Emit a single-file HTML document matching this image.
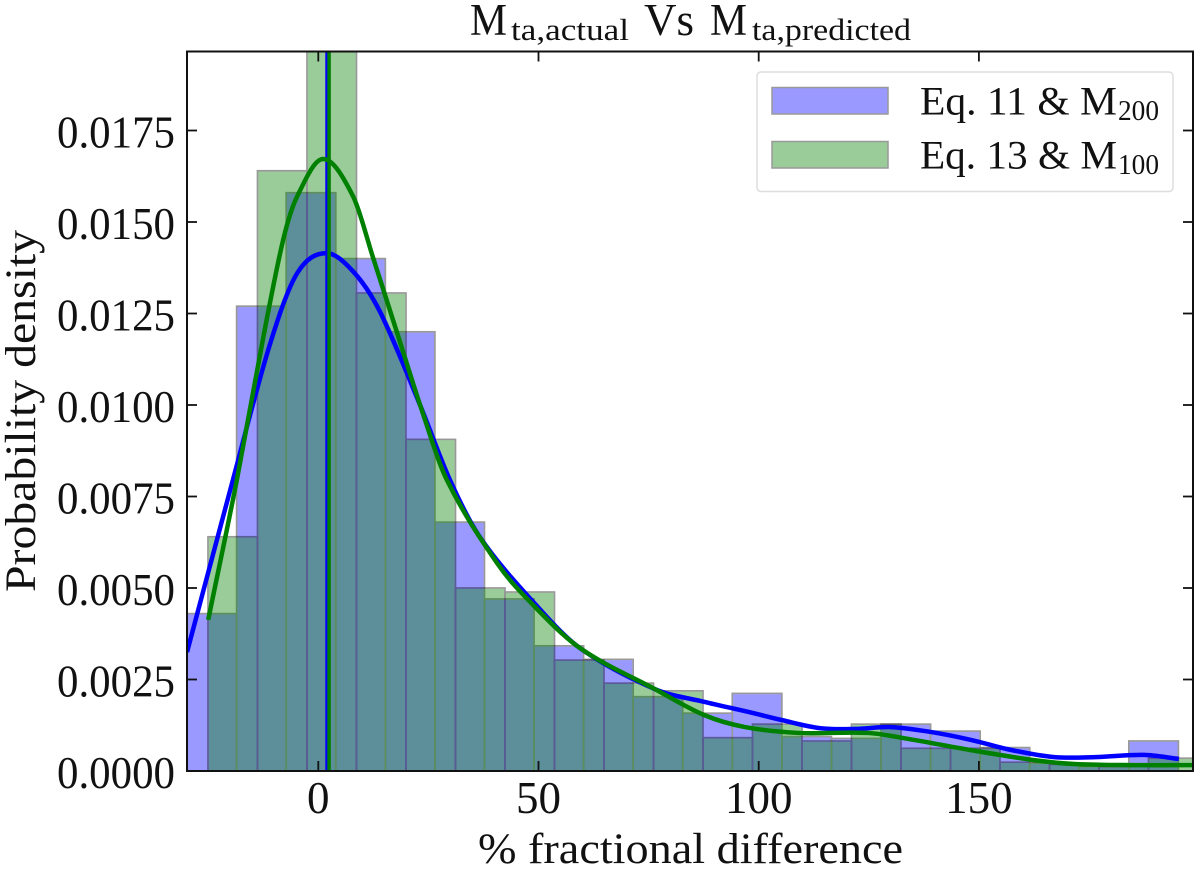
<!DOCTYPE html>
<html>
<head>
<meta charset="utf-8">
<style>
html,body{margin:0;padding:0;background:#fff;}
svg{display:block;}
text{font-family:"Liberation Serif",serif;fill:#111;}
</style>
</head>
<body>
<svg id="chart" xmlns="http://www.w3.org/2000/svg" width="1200" height="870" viewBox="0 0 1200 870">
<defs><clipPath id="plot-clip"><rect x="187" y="51.5" width="1006" height="719.5"/></clipPath></defs>
<rect width="1200" height="870" fill="#fff"/>
<g clip-path="url(#plot-clip)">
<g id="edges-blue"></g>
<g id="bars-blue"></g>
<g id="bars-green"></g>
<g id="edges-green" opacity="0.4"></g>
</g>
<g id="lines" clip-path="url(#plot-clip)"></g>
<g id="ticks"></g>
<rect x="187" y="51.5" width="1006" height="719.5" fill="none" stroke="#111" stroke-width="2"/>

<g>
<text x="470" y="35" font-size="45" textLength="37" lengthAdjust="spacingAndGlyphs">M</text>
<text x="511" y="40" font-size="31" textLength="118" lengthAdjust="spacingAndGlyphs">ta,actual</text>
<text x="644" y="35" font-size="45" textLength="50" lengthAdjust="spacingAndGlyphs">Vs</text>
<text x="710" y="35" font-size="45" textLength="37" lengthAdjust="spacingAndGlyphs">M</text>
<text x="752" y="40" font-size="31" textLength="159" lengthAdjust="spacingAndGlyphs">ta,predicted</text>
</g>

<text x="478" y="863" font-size="43" textLength="425" lengthAdjust="spacingAndGlyphs">% fractional difference</text>
<text transform="translate(35,592) rotate(-90)" font-size="43" textLength="362" lengthAdjust="spacingAndGlyphs">Probability density</text>

<g>
<rect x="757" y="72" width="416" height="119.5" rx="4" fill="#fff" fill-opacity="0.8" stroke="#ddd" stroke-width="1.5"/>
<rect x="772" y="87.5" width="116" height="26.5" fill="#9999ff" stroke="#999" stroke-width="1.5"/>
<rect x="772" y="141.5" width="116" height="26.5" fill="#99cc99" stroke="#999" stroke-width="1.5"/>
<text x="920" y="114.5" font-size="40" textLength="197" lengthAdjust="spacingAndGlyphs">Eq. 11 &amp; M</text>
<text x="1118" y="120" font-size="29" textLength="41" lengthAdjust="spacingAndGlyphs">200</text>
<text x="920" y="168.5" font-size="40" textLength="197" lengthAdjust="spacingAndGlyphs">Eq. 13 &amp; M</text>
<text x="1118" y="174" font-size="29" textLength="41" lengthAdjust="spacingAndGlyphs">100</text>
</g>
</svg>
<script>
// Histogram bin layout (data units)
const blueBinStart = -29.8;
const blueBinWidth = 11.255;
const greenBinStart = -25.05;
const greenBinWidth = 11.24;
// Histogram densities
const blueDensity = [0.0043,0.0127,0.0158,0.0140,0.0120,0.0068,0.0047,0.00342,0.00305,0.00203,0.00158,0.00212,0.00094,0.00089,0.00128,0.00109,0.00064,0.00021,0.00012,0.00082];
const greenDensity = [0.0064,0.0164,0.0205,0.01306,0.00906,0.0050,0.00489,0.00303,0.00240,0.00219,0.00091,0.00128,0.00082,0.00128,0.00062,0.00062,0.00024,0.00018,0.00012,0.00035];
// KDE curves
const blueKdeX = [-29.8,-19.4,-11.0,-4.8,1.7,7.9,14.0,23.1,29.9,36.7,48.8,59.4,76.4,87.6,97.8,105.3,114,122,130,138.9,148.2,157.5,167.1,176.4,187.5,195.4];
const blueKdeY = [0.00325,0.00795,0.01165,0.01360,0.01415,0.01365,0.01255,0.01000,0.00795,0.00639,0.00462,0.00336,0.00224,0.00189,0.00161,0.00139,0.00117,0.00115,0.00120,0.00107,0.00085,0.00057,0.00038,0.00038,0.00044,0.00033];
const greenKdeX = [-25.0,-18.5,-12.6,-8.0,-4.8,1.1,7.9,12.4,17.9,23.5,29.2,40.6,48.1,59.4,76.4,87.6,96.9,109.1,124.8,134.3,148.2,162.3,171.6,185.7,199.7];
const greenKdeY = [0.00413,0.00795,0.01178,0.0145,0.0157,0.01672,0.01570,0.01404,0.01197,0.00986,0.00795,0.00568,0.00462,0.00336,0.00224,0.00153,0.00120,0.00104,0.00104,0.00087,0.00057,0.00030,0.00019,0.00016,0.00016];
// Median lines
const blueMedian = 1.98;
const greenMedian = 2.45;
// Ticks
const xTickValues = [0,50,100,150];
const xTickLabels = ["0","50","100","150"];
const yTickValues = [0,0.0025,0.005,0.0075,0.01,0.0125,0.015,0.0175];
const yTickLabels = ["0.0000","0.0025","0.0050","0.0075","0.0100","0.0125","0.0150","0.0175"];

const NS = "http://www.w3.org/2000/svg";
const EDGE = 1.7;
function xScale(v){ return 318.3 + 4.404 * v; }
function yScale(v){ return 771 - 36600 * v; }
function make(tag, parent, attrs){
  const el = document.createElementNS(NS, tag);
  for (const k in attrs) el.setAttribute(k, attrs[k]);
  parent.appendChild(el);
  return el;
}
function drawBars(fillId, edgeId, start, width, values, fillColor, edgeColor, prefix){
  const fillGroup = document.getElementById(fillId);
  const edgeGroup = document.getElementById(edgeId);
  values.forEach(function(v, i){
    const x0 = xScale(start + i * width);
    const x1 = xScale(start + (i + 1) * width);
    const top = yScale(v);
    const bottom = yScale(0);
    const f = make("rect", fillGroup, {x:x0 + EDGE / 2, y:top + EDGE / 2, width:x1 - x0 - EDGE, height:bottom - top - EDGE / 2, fill:fillColor, "fill-opacity":0.4});
    
    
    const e = make("rect", edgeGroup, {x:x0, y:top, width:x1 - x0, height:bottom - top, fill:"none", stroke:edgeColor, "stroke-width":EDGE});
    
    
  });
}
function smoothPath(xs, ys){
  const p = xs.map(function(x, i){ return [xScale(x), yScale(ys[i])]; });
  const n = p.length;
  const m = p.map(function(q, i){
    const a = p[Math.max(i - 1, 0)], b = p[Math.min(i + 1, n - 1)];
    return (b[1] - a[1]) / (b[0] - a[0]);
  });
  let d = "M" + p[0][0] + " " + p[0][1];
  for (let i = 0; i < n - 1; i++){
    const dx = (p[i + 1][0] - p[i][0]) / 3;
    d += " C" + (p[i][0] + dx) + " " + (p[i][1] + m[i] * dx) + " " + (p[i + 1][0] - dx) + " " + (p[i + 1][1] - m[i + 1] * dx) + " " + p[i + 1][0] + " " + p[i + 1][1];
  }
  return d;
}
drawBars("bars-blue", "edges-blue", blueBinStart, blueBinWidth, blueDensity, "#0000ff", "#999999", "blue-histogram");
drawBars("bars-green", "edges-green", greenBinStart, greenBinWidth, greenDensity, "#008000", "#000000", "green-histogram");

const linesGroup = document.getElementById("lines");
const blueCurve = make("path", linesGroup, {d:smoothPath(blueKdeX, blueKdeY), fill:"none", stroke:"#0000ff", "stroke-width":4.5, "stroke-linejoin":"round"});


const blueLine = make("line", linesGroup, {x1:xScale(blueMedian), x2:xScale(blueMedian), y1:51.5, y2:771, stroke:"#0000ff", "stroke-width":3.5});


const greenCurve = make("path", linesGroup, {d:smoothPath(greenKdeX, greenKdeY), fill:"none", stroke:"#008000", "stroke-width":4.5, "stroke-linejoin":"round"});


const greenLine = make("line", linesGroup, {x1:xScale(greenMedian), x2:xScale(greenMedian), y1:51.5, y2:771, stroke:"#008000", "stroke-width":3.5});



const tickGroup = document.getElementById("ticks");
xTickValues.forEach(function(v, i){
  const x = xScale(v);
  const bottom = make("line", tickGroup, {x1:x, x2:x, y1:771, y2:761, stroke:"#111", "stroke-width":1.8});
  
  
  const top = make("line", tickGroup, {x1:x, x2:x, y1:51.5, y2:61.5, stroke:"#111", "stroke-width":1.8});
  
  
  const label = make("text", tickGroup, {x:x, y:813, "font-size":45, "text-anchor":"middle"});
  
  
  label.textContent = xTickLabels[i];
});
yTickValues.forEach(function(v, i){
  const y = yScale(v);
  const left = make("line", tickGroup, {x1:187, x2:197, y1:y, y2:y, stroke:"#111", "stroke-width":1.8});
  
  
  const right = make("line", tickGroup, {x1:1193, x2:1183, y1:y, y2:y, stroke:"#111", "stroke-width":1.8});
  
  
  const label = make("text", tickGroup, {x:57, y:y + 17, "font-size":45, textLength:118, lengthAdjust:"spacingAndGlyphs"});
  
  
  label.textContent = yTickLabels[i];
});
</script>
</body>
</html>
